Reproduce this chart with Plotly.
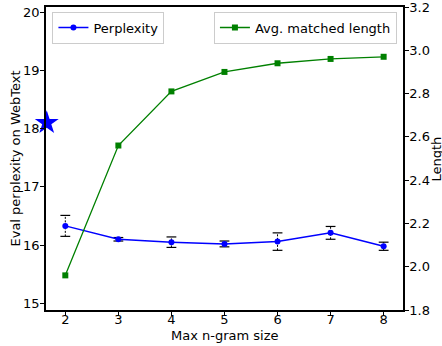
import plotly.graph_objects as go

ngram = [2, 3, 4, 5, 6, 7, 8]
perplexity = [16.33, 16.10, 16.05, 16.02, 16.06, 16.21, 15.98]
perplexity_err = [0.18, 0.03, 0.09, 0.05, 0.15, 0.11, 0.07]
matched_len = [1.96, 2.56, 2.81, 2.90, 2.94, 2.96, 2.97]
baseline_x = [1.65]
baseline_ppl = [18.1]

font = "DejaVu Sans, Liberation Sans, sans-serif"

fig = go.Figure()

fig.add_trace(go.Scatter(
    x=ngram, y=matched_len, mode="lines+markers", name="Avg. matched length",
    line=dict(color="#008000", width=1.3),
    marker=dict(symbol="square", size=6, color="#008000"),
    yaxis="y2", legend="legend2",
))

# dashed error bars with caps
ex, ey, cx, cy = [], [], [], []
for xv, yv, ev in zip(ngram, perplexity, perplexity_err):
    ex += [xv, xv, None]
    ey += [yv - ev, yv + ev, None]
    cx += [xv, xv]
    cy += [yv - ev, yv + ev]
fig.add_trace(go.Scatter(
    x=ex, y=ey, mode="lines", showlegend=False, hoverinfo="skip",
    line=dict(color="black", width=1, dash="2px,1.5px"),
))
fig.add_trace(go.Scatter(
    x=cx, y=cy, mode="markers", showlegend=False, hoverinfo="skip",
    marker=dict(symbol="line-ew", size=7, line=dict(color="black", width=1.2)),
))

fig.add_trace(go.Scatter(
    x=ngram, y=perplexity, mode="lines+markers", name="Perplexity",
    line=dict(color="#0000ff", width=1.5),
    marker=dict(symbol="circle", size=6, color="#0000ff"),
    legend="legend",
))

fig.add_trace(go.Scatter(
    x=baseline_x, y=baseline_ppl, mode="markers", showlegend=False,
    marker=dict(symbol="star", size=18, color="#0000ff"),
    cliponaxis=False,
))

axis_common = dict(
    showline=True, linecolor="black", linewidth=1.5,
    ticks="outside", ticklen=4, tickcolor="black", tickwidth=1,
    showgrid=False, zeroline=False, automargin=False,
    ticklabeloverflow="allow",
    tickfont=dict(family=font, size=13, color="black"),
)

W, H = 442, 346
ml, mr, mt, mb = 46, 39, 7, 36
pw, ph = W - ml - mr, H - mt - mb

def px_x(p):
    return (p - ml) / pw

def px_y(p):
    return 1 - (p - mt) / ph

title_font = dict(family=font, size=13, color="black")

fig.update_layout(
    width=W, height=H,
    margin=dict(l=ml, r=mr, t=mt, b=mb),
    plot_bgcolor="white", paper_bgcolor="white",
    font=dict(family=font, size=13, color="black"),
    xaxis=dict(range=[1.636, 8.365], tickvals=ngram, mirror=True,
               ticklabelstandoff=-7, **axis_common),
    yaxis=dict(range=[14.885, 20.09], tickvals=[15, 16, 17, 18, 19, 20],
               mirror=True, ticklabelstandoff=-2, **axis_common),
    yaxis2=dict(range=[1.8, 3.2], tickvals=[1.8, 2.0, 2.2, 2.4, 2.6, 2.8, 3.0, 3.2],
                tickformat=".1f", overlaying="y", side="right",
                ticklabelstandoff=-2, **axis_common),
    legend=dict(x=0.018, y=0.985, xanchor="left", yanchor="top",
                bordercolor="#cccccc", borderwidth=1, bgcolor="rgba(255,255,255,0.8)",
                font=dict(family=font, size=13), itemwidth=30),
    legend2=dict(x=0.983, y=0.985, xanchor="right", yanchor="top",
                 bordercolor="#cccccc", borderwidth=1, bgcolor="rgba(255,255,255,0.8)",
                 font=dict(family=font, size=13), itemwidth=30),
    annotations=[
        dict(text="Max n-gram size", xref="paper", yref="paper", x=0.5, y=px_y(335),
             xanchor="center", yanchor="middle", showarrow=False, font=title_font),
        dict(text="Eval perplexity on WebText", xref="paper", yref="paper",
             x=px_x(15), y=0.5, textangle=-90, xanchor="center", yanchor="middle",
             showarrow=False, font=title_font),
        dict(text="Length", xref="paper", yref="paper",
             x=px_x(436), y=0.5, textangle=-90, xanchor="center", yanchor="middle",
             showarrow=False, font=title_font),
    ],
)

fig.write_html("out.html")
